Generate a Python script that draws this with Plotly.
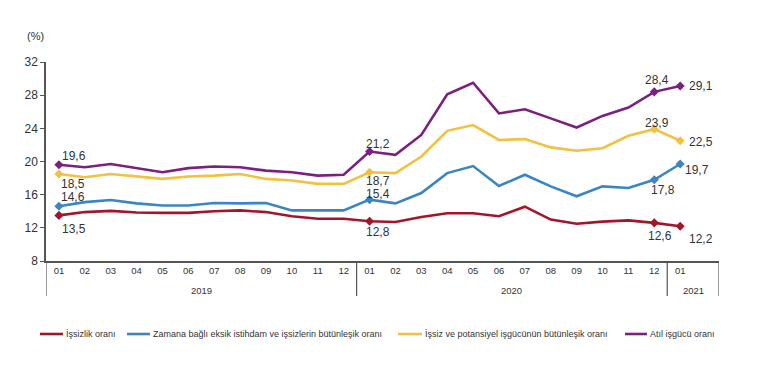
import plotly.graph_objects as go

months = ["01","02","03","04","05","06","07","08","09","10","11","12",
          "01","02","03","04","05","06","07","08","09","10","11","12","01"]
years = ["2019", "2020", "2021"]

issizlik = [13.5, 13.9, 14.05, 13.85, 13.8, 13.8, 14.0, 14.1, 13.9, 13.4, 13.1, 13.1,
            12.8, 12.7, 13.3, 13.75, 13.75, 13.4, 14.55, 13.0, 12.5, 12.75, 12.9, 12.6, 12.2]
zamana = [14.6, 15.1, 15.35, 14.95, 14.7, 14.7, 15.0, 14.95, 15.0, 14.1, 14.1, 14.1,
          15.4, 14.95, 16.2, 18.6, 19.45, 17.05, 18.4, 17.0, 15.8, 17.0, 16.8, 17.8, 19.7]
potansiyel = [18.5, 18.1, 18.5, 18.2, 17.9, 18.2, 18.3, 18.5, 17.9, 17.7, 17.3, 17.3,
              18.7, 18.6, 20.6, 23.7, 24.4, 22.6, 22.7, 21.7, 21.3, 21.6, 23.1, 23.9, 22.5]
atil = [19.6, 19.3, 19.7, 19.2, 18.7, 19.2, 19.4, 19.3, 18.9, 18.7, 18.3, 18.4,
        21.2, 20.8, 23.2, 28.1, 29.5, 25.8, 26.3, 25.2, 24.1, 25.5, 26.5, 28.4, 29.1]

names = ["İşsizlik oranı",
         "Zamana bağlı eksik istihdam ve işsizlerin bütünleşik oranı",
         "İşsiz ve potansiyel işgücünün bütünleşik oranı",
         "Atıl işgücü oranı"]
colors = ["#A3152B", "#3B85C3", "#F2C141", "#7C2080"]
series = [issizlik, zamana, potansiyel, atil]
marked = [0, 12, 23, 24]

# label offsets (xshift, yshift) per series per marked point
offsets = [
    [(15, -14), (8, -11), (6, -13), (21, -13)],
    [(14, 9), (8, 6), (9, -10), (17, -6)],
    [(14, -10), (8, -9), (3, 6), (21, -1)],
    [(15, 9), (8, 8), (3, 12), (21, 0)],
]

# figure geometry
W, H = 775, 380
L, R, T, B = 38, 64, 54, 127
PW, PH = W - L - R, H - T - B

def px_x(px):
    return (px - L) / PW

def px_y(py):
    return (H - B - py) / PH

x = list(range(len(months)))
fig = go.Figure()
for s, name, c in zip(series, names, colors):
    fig.add_trace(go.Scatter(
        x=x, y=s, name=name, mode="lines",
        line=dict(color=c, width=2.6), hoverinfo="skip", showlegend=False))
    fig.add_trace(go.Scatter(
        x=marked, y=[s[i] for i in marked], mode="markers", showlegend=False,
        marker=dict(symbol="diamond", size=7, color=c), hoverinfo="skip"))

annotations = []
for s, offs in zip(series, offsets):
    for i, (dx, dy) in zip(marked, offs):
        annotations.append(dict(
            x=i, y=s[i], xref="x", yref="y", text=f"{s[i]:.1f}".replace(".", ","),
            showarrow=False, xshift=dx, yshift=dy,
            font=dict(size=12, color="#333333")))

# year labels
for yr, cx in zip(years, [5.5, 17.5, 24.5]):
    annotations.append(dict(x=cx, y=0, yshift=-29, yanchor="middle", xref="x", yref="paper",
                            text=yr, showarrow=False, font=dict(size=9.5, color="#333333")))
annotations.append(dict(x=-0.5, xshift=-11, y=32, yshift=26, xref="x", yref="y", text="(%)",
                        showarrow=False, font=dict(size=11, color="#333333")))

shapes = []
for sx in [-0.5, 11.5, 23.5, 25.5]:
    shapes.append(dict(type="line", xref="x", yref="paper", x0=sx, x1=sx, y0=0, y1=-35 / PH,
                       line=dict(color="#555555", width=1.2)))

# legend (drawn manually to keep it on one row like the original)
legend_pos = [(32, 55), (119, 142), (390, 414), (617, 639)]
ly = px_y(326)
for (a, b), name, c in zip(legend_pos, names, colors):
    shapes.append(dict(type="line", xref="paper", yref="paper", x0=px_x(a), x1=px_x(b),
                       y0=ly, y1=ly, line=dict(color=c, width=2.6)))
    annotations.append(dict(x=px_x(b + 1), y=ly, xref="paper", yref="paper", text=name,
                            xanchor="left", yanchor="middle", showarrow=False,
                            font=dict(size=9, color="#333333")))

fig.update_layout(
    width=W, height=H,
    margin=dict(l=L, r=R, t=T, b=B),
    paper_bgcolor="white", plot_bgcolor="white",
    showlegend=False,
    font=dict(family="Liberation Sans, Arial, sans-serif", color="#333333"),
    xaxis=dict(range=[-0.5, 25.5], tickvals=x, ticktext=months, showgrid=False,
               zeroline=False, showline=True, linecolor="#555555", linewidth=1.5,
               ticks="", tickfont=dict(size=9.5, color="#333333")),
    yaxis=dict(range=[8, 32], tickvals=[8, 12, 16, 20, 24, 28, 32], showgrid=False,
               zeroline=False, showline=True, linecolor="#555555", linewidth=1.5,
               ticks="outside", ticklen=4, tickcolor="#555555",
               tickfont=dict(size=12, color="#333333")),
    annotations=annotations, shapes=shapes,
)
fig.write_html("out.html")
